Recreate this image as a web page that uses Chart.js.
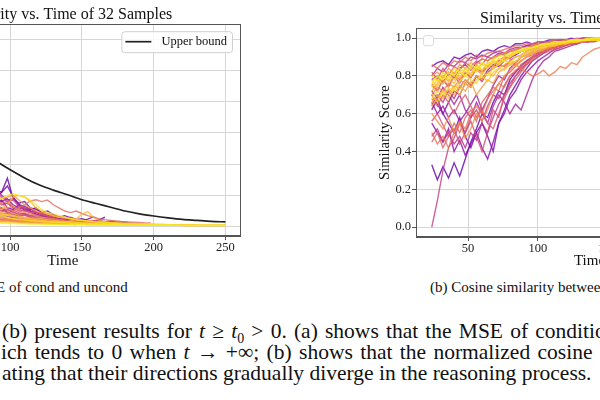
<!DOCTYPE html>
<html><head><meta charset="utf-8">
<script src="https://cdn.jsdelivr.net/npm/chart.js@4"></script>
<style>
html,body{margin:0;padding:0;width:600px;height:400px;overflow:hidden;background:#fff;}
body{position:relative;font-family:'Liberation Serif','Times New Roman',serif;color:#111;}
.cv{position:absolute;top:0;}
.cap{position:absolute;top:279px;font-size:15px;line-height:16px;white-space:nowrap;}
.body{position:absolute;font-size:21.5px;line-height:21px;white-space:nowrap;}
</style></head><body>
<canvas id="left" class="cv" width="420" height="276" style="left:-160px"></canvas>
<canvas id="right" class="cv" width="423" height="276" style="left:360px"></canvas>
<div class="cap" style="left:-46px">(a) MSE of cond and uncond</div>
<div class="cap" style="left:430px">(b) Cosine similarity between cond and uncond</div>
<div class="body" style="left:2px;top:321px;word-spacing:1.8px">(b) present results for <i>t</i> ≥ <i>t</i><sub style="font-size:14px">0</sub> &gt; 0. (a) shows that the MSE of conditional and unconditional</div>
<div class="body" style="left:1px;top:342px;word-spacing:2px">ich tends to 0 when <i>t</i> → +∞; (b) shows that the normalized cosine similarity</div>
<div class="body" style="left:2px;top:363px">ating that their directions gradually diverge in the reasoning process.</div>
<script>
// ---------------- DATA ----------------
const leftTitle = 'Similarity vs. Time of 32 Samples';
const rightTitle = 'Similarity vs. Time of 32 Samples';
const leftXTicks = [50, 100, 150, 200, 250];
const leftYTicks = [0, 1, 2, 3, 4, 5, 6];
const rightXTicks = [50, 100, 150, 200, 250];
const rightYTicks = [0.0, 0.2, 0.4, 0.6, 0.8, 1.0];

const boundTimes  = [24, 30, 40, 50, 60, 70, 80, 90, 100, 110, 120, 130, 140, 150, 160, 170, 180, 190, 200, 210, 220, 230, 240, 250];
const boundValues = [6.2, 5.6, 4.8, 4.0, 3.4, 2.9, 2.45, 2.1, 1.82, 1.56, 1.34, 1.17, 1.02, 0.86, 0.74, 0.62, 0.5, 0.41, 0.34, 0.28, 0.23, 0.2, 0.17, 0.15];

const leftTimes = [90,94,98,102,106,110,114,118,122,126,130,134,138,142,146,150,154,158,162,166,170,174,178,182,186,190,194,198,202,206,210,214,218,222,226,230,234,238,242,246,250];
const mseSamples = [
 [1.2,1.1,1.55,0.9,0.75,0.8,0.6,0.55,0.45,0.5,0.38,0.3,0.35,0.28,0.22,0.25,0.2,0.18,0.2,0.15,0.17,0.14,0.15,0.13],
 [0.9,1.1,1.3,0.95,0.7,0.65,0.55,0.6,0.42,0.35,0.4,0.3,0.26,0.28,0.22,0.2,0.24,0.31,0.22,0.3],
 [0.7,0.85,0.6,0.55,0.7,0.54,0.5,0.4,0.35,0.3,0.28,0.25,0.2,0.22,0.18,0.15],
 [0.5,0.6,0.45,0.4,0.35,0.38,0.3,0.25,0.22,0.2,0.18,0.15,0.14],
 [0.35,0.3,0.32,0.28,0.25,0.22,0.2,0.18,0.2,0.16,0.15,0.14,0.12,0.13,0.11,0.1,0.12,0.1,0.09,0.1,0.08,0.09],
 [1.0,0.8,0.9,0.7,0.6,0.55,0.58,0.45,0.4,0.35,0.3,0.27,0.25,0.22,0.2,0.18,0.16,0.15],
 [0.25,0.22,0.2,0.18,0.16,0.15,0.14,0.13,0.12,0.12,0.1,0.1,0.09,0.08,0.08],
 [0.6,0.5,0.55,0.45,0.4,0.42,0.35,0.3,0.32,0.26,0.24,0.22,0.2,0.18,0.2,0.16,0.15,0.17,0.14,0.13,0.15,0.12,0.11,0.12,0.1],
 [1.3,1.0,0.85,0.9,0.7,0.6,0.5,0.45,0.4,0.35,0.3,0.28],
 [0.8,0.7,0.75,0.6,0.5,0.52,0.45,0.38,0.35,0.3,0.28,0.25,0.22,0.2,0.18,0.16,0.15],
 [0.45,0.4,0.42,0.35,0.3,0.28,0.25,0.22,0.2,0.18,0.16,0.15,0.14,0.12],
 [1.1,0.95,0.8,0.85,0.65,0.55,0.6,0.48,0.4,0.42,0.35,0.3,0.28,0.3,0.24,0.22,0.2,0.18,0.16,0.15,0.13],
 [0.3,0.28,0.25,0.22,0.2,0.18,0.17,0.15,0.14,0.13],
 [0.65,0.55,0.5,0.52,0.45,0.4,0.35,0.38,0.3,0.26,0.25,0.22,0.2,0.2,0.18,0.16,0.15,0.14,0.13],
 [0.2,0.18,0.2,0.16,0.15,0.14,0.12,0.12,0.11,0.1,0.1,0.09,0.08,0.08,0.07],
 [0.9,0.75,0.8,0.65,0.55,0.5,0.45,0.48,0.4,0.35,0.3,0.32,0.28,0.25,0.22,0.2,0.18,0.2,0.16,0.15,0.14,0.13,0.12],
 [0.55,0.5,0.45,0.48,0.4,0.36,0.32,0.3,0.28,0.25,0.22,0.2,0.18,0.16,0.15,0.14],
 [0.7,0.6,0.55,0.5,0.6,0.7,0.82,0.86,0.8,0.85,0.7,0.6,0.5,0.45,0.5,0.42,0.35,0.3,0.25,0.22,0.2,0.18,0.16,0.15,0.14,0.13,0.12,0.12],
 [0.4,0.35,0.38,0.3,0.28,0.25,0.22,0.2,0.2,0.18,0.16,0.15,0.14,0.13,0.12,0.12,0.11,0.1,0.1,0.09],
 [0.3,0.28,0.25,0.22,0.2,0.2,0.18,0.16,0.15,0.14,0.14,0.13,0.12,0.12,0.11,0.1,0.1,0.1,0.09,0.09,0.08,0.08,0.08,0.07,0.07,0.07,0.06,0.06,0.06,0.05,0.05],
 [0.85,0.7,0.6,0.65,0.5,0.45,0.4,0.35,0.3,0.28,0.25,0.22,0.2],
 [0.25,0.22,0.2,0.2,0.18,0.17,0.16,0.15,0.14,0.13,0.13,0.12,0.11,0.11,0.1,0.1,0.09,0.09,0.09,0.08,0.08,0.08,0.07,0.07,0.07],
 [1.0,0.9,0.95,1.0,0.85,0.7,0.6,0.5,0.45,0.4,0.35,0.3,0.28,0.25,0.22,0.2,0.18,0.17],
 [0.5,0.45,0.4,0.42,0.35,0.3,0.28,0.26,0.24,0.22,0.2,0.18,0.17,0.16,0.15,0.14,0.13,0.12,0.12,0.11,0.1,0.1],
 [0.2,0.18,0.17,0.16,0.15,0.14,0.13,0.12,0.12,0.11,0.1,0.1,0.1,0.09,0.09,0.08,0.08,0.08,0.07,0.07,0.07,0.07,0.06,0.06,0.06,0.06,0.05,0.05,0.05],
 [0.6,0.55,0.7,0.95,1.0,0.95,0.8,0.6,0.5,0.4,0.35,0.3,0.28,0.25,0.22,0.2,0.18,0.16,0.15,0.14,0.13,0.12,0.11,0.1,0.1,0.09,0.08,0.08,0.07,0.07,0.06,0.06,0.06,0.05,0.05,0.05],
 [0.35,0.3,0.28,0.25,0.22,0.2,0.18,0.17,0.16,0.15,0.15,0.14,0.13,0.18,0.25,0.4,0.48,0.3,0.2,0.15,0.12,0.11,0.1,0.09,0.09,0.08,0.08,0.07,0.07,0.07,0.06,0.06,0.06,0.06,0.05,0.05,0.05,0.05,0.05,0.05,0.05],
 [0.15,0.14,0.13,0.12,0.12,0.11,0.1,0.1,0.09,0.09,0.08,0.08,0.08,0.07,0.07,0.07,0.06,0.06,0.06,0.06,0.05,0.05,0.05,0.05,0.05,0.04,0.04,0.04,0.04,0.04,0.04,0.04,0.04,0.03,0.03,0.03,0.03,0.03,0.03,0.03,0.03],
 [0.45,0.4,0.38,0.35,0.3,0.28,0.25,0.22,0.2,0.18,0.17,0.16,0.15,0.14,0.13,0.12,0.11,0.11,0.1,0.1,0.09,0.09,0.08,0.08,0.08,0.07,0.07,0.07,0.06,0.06,0.06,0.06,0.05,0.05,0.05],
 [0.3,0.35,0.3,0.25,0.24,0.22,0.2,0.18,0.17,0.15,0.14,0.13,0.12,0.11,0.1,0.1,0.09,0.09,0.08,0.08,0.08,0.07,0.07,0.07,0.06,0.06,0.06,0.06,0.06,0.05,0.05,0.05,0.05,0.05,0.05,0.05,0.05,0.05,0.05,0.05,0.05],
 [0.8,0.9,1.0,1.05,1.0,0.95,0.85,0.7,0.55,0.45,0.4,0.35,0.3,0.26,0.22,0.2,0.18,0.16,0.14,0.13,0.12,0.11,0.1,0.1,0.09,0.08,0.08,0.07,0.07,0.06,0.06,0.06],
 [0.12,0.11,0.1,0.1,0.09,0.09,0.08,0.08,0.08,0.07,0.07,0.07,0.06,0.06,0.06,0.06,0.05,0.05,0.05,0.05,0.05,0.05,0.05,0.04,0.04,0.04,0.04,0.04,0.04,0.04,0.04,0.04,0.04,0.04,0.04,0.04,0.04,0.04,0.04,0.04,0.04]
];

const rightTimes = [24,28,32,36,40,44,48,52,56,60,64,68,72,76,80,84,88,92,96,100,104,108,112,116,120,124,128,132,136,140,144,148];
const cosSamples = [
 [0.33,0.25,0.32,0.26,0.34,0.27,0.36,0.45,0.52,0.6,0.58,0.66,0.72,0.7,0.78,0.82,0.85,0.88,0.9,0.92,0.93,0.95,0.96,0.96,0.97,0.98,0.98,0.98,0.99,0.99,0.99,1.0],
 [0.85,0.87,0.88,0.86,0.9,0.89,0.91,0.92,0.9,0.93,0.94,0.93,0.95,0.96,0.95,0.97,0.97,0.98,0.97,0.98,0.98,0.99,0.99,0.99,0.99,1.0,0.99,1.0,1.0,1.0,1.0,1.0],
 [0.7,0.65,0.6,0.55,0.5,0.58,0.48,0.42,0.5,0.55,0.48,0.4,0.55,0.62,0.7,0.75,0.8,0.84,0.88,0.9,0.92,0.94,0.95,0.96,0.97,0.97,0.98,0.98,0.99,0.99,0.99,0.99],
 [0.62,0.68,0.6,0.66,0.72,0.7,0.76,0.74,0.8,0.78,0.83,0.86,0.85,0.88,0.9,0.91,0.93,0.94,0.95,0.96,0.96,0.97,0.98,0.98,0.98,0.99,0.99,0.99,0.99,1.0,1.0,1.0],
 [0.55,0.5,0.45,0.52,0.4,0.46,0.38,0.44,0.5,0.42,0.36,0.45,0.55,0.6,0.68,0.72,0.78,0.82,0.85,0.88,0.9,0.92,0.94,0.95,0.96,0.97,0.97,0.98,0.98,0.99,0.99,0.99],
 [0.78,0.8,0.76,0.82,0.79,0.84,0.86,0.83,0.87,0.89,0.88,0.9,0.92,0.91,0.93,0.94,0.95,0.96,0.96,0.97,0.98,0.98,0.98,0.99,0.99,0.99,0.99,1.0,1.0,1.0,1.0,1.0],
 [0.66,0.6,0.64,0.58,0.62,0.56,0.6,0.65,0.7,0.62,0.68,0.75,0.8,0.78,0.84,0.87,0.9,0.91,0.93,0.94,0.95,0.96,0.97,0.97,0.98,0.98,0.98,0.99,0.99,0.99,0.99,1.0],
 [0.72,0.68,0.74,0.7,0.65,0.7,0.62,0.58,0.66,0.6,0.55,0.64,0.7,0.66,0.6,0.65,0.62,0.7,0.78,0.84,0.88,0.9,0.93,0.94,0.95,0.96,0.97,0.98,0.98,0.98,0.99,0.99],
 [0.8,0.84,0.82,0.86,0.85,0.88,0.87,0.9,0.89,0.91,0.9,0.92,0.93,0.92,0.94,0.95,0.95,0.96,0.97,0.97,0.98,0.98,0.98,0.99,0.99,0.99,0.99,0.99,1.0,1.0,1.0,1.0],
 [0.48,0.52,0.45,0.5,0.44,0.48,0.42,0.5,0.46,0.55,0.5,0.58,0.65,0.7,0.76,0.8,0.84,0.86,0.9,0.91,0.93,0.94,0.95,0.96,0.97,0.97,0.98,0.98,0.98,0.99,0.99,0.99],
 [0.64,0.7,0.66,0.72,0.68,0.74,0.78,0.75,0.8,0.77,0.82,0.84,0.86,0.85,0.88,0.9,0.91,0.93,0.94,0.95,0.96,0.96,0.97,0.97,0.98,0.98,0.99,0.99,0.99,0.99,1.0,1.0],
 [0.0,0.14,0.3,0.42,0.47,0.55,0.5,0.58,0.62,0.56,0.64,0.7,0.68,0.75,0.8,0.82,0.86,0.88,0.9,0.92,0.93,0.95,0.95,0.96,0.97,0.97,0.98,0.98,0.99,0.99,0.99,0.99],
 [0.75,0.72,0.78,0.74,0.8,0.76,0.82,0.79,0.84,0.82,0.86,0.85,0.88,0.9,0.89,0.92,0.93,0.94,0.95,0.96,0.96,0.97,0.97,0.98,0.98,0.99,0.99,0.99,0.99,1.0,1.0,1.0],
 [0.56,0.6,0.54,0.48,0.52,0.44,0.5,0.56,0.48,0.4,0.5,0.62,0.58,0.7,0.74,0.8,0.83,0.87,0.89,0.91,0.93,0.94,0.95,0.96,0.97,0.97,0.98,0.98,0.99,0.99,0.99,0.99],
 [0.82,0.78,0.84,0.8,0.85,0.83,0.87,0.85,0.88,0.86,0.9,0.89,0.91,0.92,0.93,0.93,0.95,0.95,0.96,0.97,0.97,0.98,0.98,0.98,0.99,0.99,0.99,0.99,1.0,1.0,1.0,1.0],
 [0.68,0.64,0.7,0.66,0.6,0.66,0.7,0.64,0.58,0.62,0.55,0.52,0.6,0.68,0.74,0.78,0.82,0.86,0.88,0.9,0.92,0.93,0.94,0.95,0.96,0.97,0.97,0.98,0.98,0.99,0.99,0.99],
 [0.45,0.5,0.42,0.48,0.55,0.5,0.58,0.62,0.56,0.66,0.7,0.74,0.72,0.8,0.82,0.85,0.88,0.9,0.91,0.93,0.94,0.95,0.96,0.96,0.97,0.97,0.98,0.98,0.99,0.99,0.99,0.99],
 [0.86,0.84,0.87,0.85,0.88,0.87,0.9,0.88,0.91,0.9,0.92,0.93,0.93,0.94,0.95,0.96,0.96,0.97,0.97,0.98,0.98,0.98,0.99,0.99,0.99,0.99,1.0,1.0,1.0,1.0,1.0,1.0],
 [0.5,0.44,0.48,0.42,0.5,0.56,0.52,0.6,0.64,0.6,0.68,0.72,0.76,0.74,0.8,0.83,0.85,0.87,0.9,0.92,0.93,0.94,0.95,0.96,0.97,0.97,0.98,0.98,0.98,0.99,0.99,0.99],
 [0.76,0.72,0.78,0.75,0.8,0.78,0.82,0.8,0.84,0.82,0.85,0.84,0.86,0.85,0.87,0.86,0.84,0.82,0.8,0.81,0.83,0.8,0.82,0.85,0.84,0.87,0.86,0.9,0.92,0.94,0.95,0.96],
 [0.7,0.74,0.72,0.76,0.74,0.78,0.76,0.8,0.83,0.81,0.85,0.87,0.86,0.89,0.9,0.92,0.93,0.94,0.95,0.96,0.96,0.97,0.97,0.98,0.98,0.99,0.99,0.99,0.99,1.0,1.0,1.0],
 [0.6,0.56,0.52,0.58,0.5,0.55,0.47,0.52,0.6,0.56,0.62,0.7,0.76,0.8,0.83,0.86,0.88,0.9,0.92,0.93,0.94,0.95,0.96,0.97,0.97,0.98,0.98,0.99,0.99,0.99,0.99,1.0],
 [0.8,0.82,0.79,0.84,0.81,0.86,0.84,0.87,0.86,0.89,0.88,0.9,0.91,0.92,0.93,0.94,0.95,0.95,0.96,0.97,0.97,0.98,0.98,0.98,0.99,0.99,0.99,0.99,1.0,1.0,1.0,1.0],
 [0.66,0.7,0.68,0.73,0.7,0.75,0.72,0.77,0.7,0.74,0.78,0.76,0.82,0.84,0.86,0.85,0.88,0.9,0.92,0.93,0.94,0.95,0.96,0.97,0.97,0.98,0.98,0.98,0.99,0.99,0.99,0.99],
 [0.72,0.76,0.8,0.77,0.82,0.79,0.84,0.81,0.86,0.83,0.87,0.85,0.89,0.88,0.9,0.92,0.93,0.94,0.95,0.95,0.96,0.97,0.97,0.98,0.98,0.98,0.99,0.99,0.99,0.99,1.0,1.0],
 [0.64,0.68,0.72,0.7,0.75,0.73,0.78,0.76,0.8,0.78,0.82,0.8,0.84,0.86,0.88,0.87,0.9,0.92,0.93,0.94,0.95,0.96,0.96,0.97,0.98,0.98,0.98,0.99,0.99,0.99,0.99,1.0],
 [0.78,0.74,0.8,0.78,0.76,0.82,0.8,0.85,0.83,0.87,0.85,0.88,0.87,0.9,0.91,0.93,0.93,0.95,0.95,0.96,0.97,0.97,0.98,0.98,0.98,0.99,0.99,0.99,0.99,1.0,1.0,1.0],
 [0.7,0.66,0.72,0.68,0.74,0.7,0.76,0.74,0.78,0.8,0.77,0.82,0.84,0.83,0.86,0.88,0.9,0.91,0.93,0.94,0.95,0.96,0.96,0.97,0.97,0.98,0.98,0.99,0.99,0.99,0.99,0.99],
 [0.74,0.78,0.76,0.8,0.78,0.82,0.84,0.8,0.85,0.83,0.86,0.88,0.87,0.9,0.91,0.92,0.93,0.94,0.95,0.96,0.96,0.97,0.97,0.98,0.98,0.98,0.99,0.99,0.99,1.0,1.0,1.0],
 [0.68,0.72,0.7,0.74,0.72,0.77,0.8,0.78,0.76,0.82,0.8,0.84,0.86,0.88,0.87,0.9,0.91,0.93,0.94,0.95,0.95,0.96,0.97,0.97,0.98,0.98,0.98,0.99,0.99,0.99,0.99,1.0],
 [0.8,0.77,0.82,0.79,0.84,0.82,0.8,0.84,0.82,0.86,0.84,0.87,0.89,0.88,0.9,0.92,0.93,0.94,0.95,0.96,0.96,0.97,0.98,0.98,0.98,0.99,0.99,0.99,0.99,1.0,1.0,1.0],
 [0.76,0.8,0.78,0.82,0.8,0.84,0.82,0.86,0.84,0.87,0.86,0.89,0.9,0.91,0.92,0.93,0.94,0.95,0.95,0.96,0.97,0.97,0.98,0.98,0.98,0.99,0.99,0.99,1.0,1.0,1.0,1.0]
];

// ---------------- STYLE ----------------
const FONT = "'Liberation Serif','Times New Roman',serif";
const plasmaStops = ['#0d0887','#41049d','#6a00a8','#8f0da4','#b12a90','#cc4778','#e16462','#f2844b','#fca636','#fcce25','#f0f921'];
function hex(h){return [1,3,5].map(i=>parseInt(h.substr(i,2),16));}
function plasma(f, a){
  const p = f*(plasmaStops.length-1), i = Math.min(Math.floor(p), plasmaStops.length-2), r = p-i;
  const c0 = hex(plasmaStops[i]), c1 = hex(plasmaStops[i+1]);
  const c = c0.map((v,k)=>Math.round(v+(c1[k]-v)*r));
  return `rgba(${c[0]},${c[1]},${c[2]},${a})`;
}
function sampleColor(i,n){return plasma(0.18 + 0.8*i/(n-1), 0.8);}

const GRID = '#d6d6d6', SPINE = '#555';

const framePlugin = {
  id: 'frame',
  afterDatasetsDraw(chart){
    const {ctx, chartArea:a} = chart;
    ctx.save(); ctx.strokeStyle = SPINE; ctx.lineWidth = 1;
    ctx.strokeRect(Math.round(a.left)+0.5, Math.round(a.top)+0.5, Math.round(a.right-a.left)-1, Math.round(a.bottom-a.top)-1);
    ctx.restore();
  }
};
function roundRect(ctx,x,y,w,h,r){ctx.beginPath();ctx.moveTo(x+r,y);ctx.arcTo(x+w,y,x+w,y+h,r);ctx.arcTo(x+w,y+h,x,y+h,r);ctx.arcTo(x,y+h,x,y,r);ctx.arcTo(x,y,x+w,y,r);ctx.closePath();}
const boxLegend = {
  id: 'boxLegend',
  afterDraw(chart){
    const {ctx, chartArea:a} = chart;
    ctx.save();
    const items = chart.data.datasets.filter(d=>d.showInLegend);
    ctx.font = `12.5px ${FONT}`;
    if (items.length){
      const d = items[0];
      const tw = ctx.measureText(d.label).width;
      const w = 4+26+10+tw+5, h = 21;
      const x = a.right - 8.5 - w, y = a.top + 7;
      roundRect(ctx,x+0.5,y+0.5,w,h,3); ctx.fillStyle='rgba(255,255,255,0.85)'; ctx.fill();
      ctx.strokeStyle='#d0d0d0'; ctx.lineWidth=1; ctx.stroke();
      ctx.strokeStyle=d.borderColor; ctx.lineWidth=d.borderWidth;
      ctx.beginPath(); ctx.moveTo(x+4,y+h/2); ctx.lineTo(x+30,y+h/2); ctx.stroke();
      ctx.fillStyle='#111'; ctx.textBaseline='middle'; ctx.fillText(d.label, x+40, y+h/2+0.5);
    } else {
      const x = a.left + 7, y = a.top + 7;
      roundRect(ctx,x+0.5,y+0.5,10,10,2); ctx.fillStyle='rgba(255,255,255,0.85)'; ctx.fill();
      ctx.strokeStyle='#dadada'; ctx.lineWidth=1; ctx.stroke();
    }
    ctx.restore();
  }
};

function axisCommon(){
  return {
    grid:{color:GRID, lineWidth:1, tickLength:4, tickColor:SPINE, drawTicks:true},
    border:{display:true, color:SPINE},
    ticks:{font:{family:FONT,size:12.5}, color:'#222', includeBounds:false}
  };
}

// ---------------- LEFT ----------------
const leftSets = mseSamples.map((arr,i)=>({
  label:'Sample '+(i+1),
  data: arr.map((v,k)=>({x:leftTimes[k], y:v})),
  borderColor: sampleColor(i, mseSamples.length),
  borderWidth:1.4, pointRadius:0, tension:0, order: mseSamples.length - i
}));
leftSets.push({
  label:'Upper bound', showInLegend:true,
  data: boundValues.map((v,k)=>({x:boundTimes[k], y:v})),
  borderColor:'#222', borderWidth:1.7, pointRadius:0, tension:0.3, order:-1
});

const lx = axisCommon(), ly = axisCommon();
new Chart(document.getElementById('left'), {
  type:'line',
  data:{datasets:leftSets},
  options:{
    responsive:false, animation:false,
    layout:{padding:{top:0,right:19.5,bottom:0,left:0}},
    plugins:{
      legend:{display:false}, tooltip:{enabled:false},
      title:{display:true, text:leftTitle, fullSize:false, color:'#111', font:{family:FONT,size:16,weight:'normal'}, padding:{top:5,bottom:0}}
    },
    scales:{
      x:{...lx, type:'linear', min:12.7, max:260.5,
        ticks:{...lx.ticks, padding:0},
        title:{display:true, text:'Time', color:'#111', font:{family:FONT,size:15}, padding:{top:0,bottom:6}},
        afterBuildTicks:s=>{s.ticks = leftXTicks.map(v=>({value:v}));},
        afterFit:s=>{s.height = 40;}},
      y:{...ly, type:'linear', min:-0.3, max:6.48,
        ticks:{...ly.ticks, padding:1},
        afterBuildTicks:s=>{s.ticks = leftYTicks.map(v=>({value:v}));},
        afterFit:s=>{s.width = 45;}}
    }
  },
  plugins:[framePlugin, boxLegend]
});

// ---------------- RIGHT ----------------
const rightSets = cosSamples.map((arr,i)=>({
  label:'Sample '+(i+1),
  data: arr.map((v,k)=>({x:rightTimes[k], y:v})),
  borderColor: sampleColor(i, cosSamples.length),
  borderWidth:1.4, pointRadius:0, tension:0, order: cosSamples.length - i
}));
const rx = axisCommon(), ry = axisCommon();
new Chart(document.getElementById('right'), {
  type:'line',
  data:{datasets:rightSets},
  options:{
    responsive:false, animation:false,
    layout:{padding:{top:0,right:20,bottom:0,left:0}},
    plugins:{
      legend:{display:false}, tooltip:{enabled:false},
      title:{display:true, text:rightTitle, fullSize:false, color:'#111', font:{family:FONT,size:16,weight:'normal'}, padding:{top:9,bottom:0}}
    },
    scales:{
      x:{...rx, type:'linear', min:12.7, max:261.3,
        ticks:{...rx.ticks, padding:0},
        title:{display:true, text:'Time', color:'#111', font:{family:FONT,size:15}, padding:{top:0,bottom:6}},
        afterBuildTicks:s=>{s.ticks = rightXTicks.map(v=>({value:v}));},
        afterFit:s=>{s.height = 39;}},
      y:{...ry, type:'linear', min:-0.0526, max:1.0526,
        ticks:{...ry.ticks, padding:1, callback:v=>Number(v).toFixed(1)},
        title:{display:true, text:'Similarity Score', color:'#111', font:{family:FONT,size:14.5}, padding:{top:16,bottom:0}},
        afterBuildTicks:s=>{s.ticks = rightYTicks.map(v=>({value:v}));},
        afterFit:s=>{s.width = 56;}}
    }
  },
  plugins:[framePlugin, boxLegend]
});
</script>
</body></html>
